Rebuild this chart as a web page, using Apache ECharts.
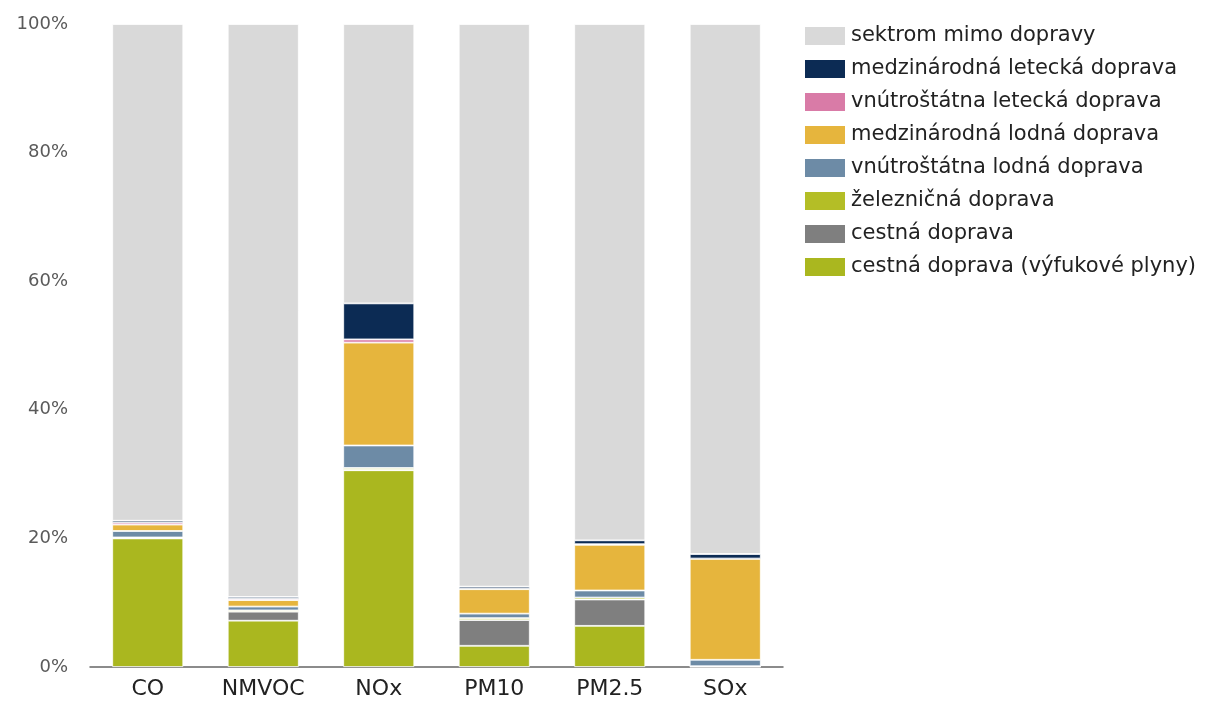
<!DOCTYPE html>
<html>
<head>
<meta charset="utf-8">
<script src="https://cdn.jsdelivr.net/npm/echarts@6/dist/echarts.min.js"></script>
<style>
  html, body { margin: 0; padding: 0; background: #fff; }
  #chart { width: 1209px; height: 702px; }
</style>
</head>
<body>
<div id="chart"></div>
<script>
// Pollutant categories
const categories = ['CO', 'NMVOC', 'NOx', 'PM10', 'PM2.5', 'SOx'];

// Share of total emissions per source (%), stacked bottom to top
const cestnaVyfukove   = [20.0, 7.2, 30.6, 3.3, 6.4, 0.05];
const cestna           = [0.05, 1.4, 0.05, 4.0, 4.1, 0.02];
const zeleznicna       = [0.1, 0.2, 0.3, 0.3, 0.3, 0.05];
const vnutroLodna      = [1.0, 0.6, 3.5, 0.7, 1.1, 1.0];
const medzLodna        = [1.0, 1.0, 16.0, 3.8, 7.1, 15.7];
const vnutroLetecka    = [0.3, 0.2, 0.5, 0.1, 0.1, 0.05];
const medzLetecka      = [0.3, 0.3, 5.6, 0.3, 0.6, 0.7];
const mimoDopravy      = [77.25, 89.1, 43.45, 87.5, 80.3, 82.43];

const yTicks = [0, 20, 40, 60, 80, 100];

const seriesDefs = [
  { name: 'cestná doprava (výfukové plyny)', data: cestnaVyfukove, color: '#aab71f' },
  { name: 'cestná doprava', data: cestna, color: '#7f7f7f' },
  { name: 'železničná doprava', data: zeleznicna, color: '#b4be26' },
  { name: 'vnútroštátna lodná doprava', data: vnutroLodna, color: '#6d8ba6' },
  { name: 'medzinárodná lodná doprava', data: medzLodna, color: '#e6b53d' },
  { name: 'vnútroštátna letecká doprava', data: vnutroLetecka, color: '#d97ba7' },
  { name: 'medzinárodná letecká doprava', data: medzLetecka, color: '#0c2b54' },
  { name: 'sektrom mimo dopravy', data: mimoDopravy, color: '#d9d9d9' }
];

const chart = echarts.init(document.getElementById('chart'), null, { renderer: 'canvas' });

chart.setOption({
  animation: false,
  backgroundColor: '#ffffff',
  grid: { left: 90, right: 426, top: 24, bottom: 35 },
  legend: {
    orient: 'vertical',
    left: 798,
    top: 20,
    itemWidth: 42,
    itemHeight: 20,
    itemGap: 11,
    data: seriesDefs.map(s => s.name).reverse(),
    textStyle: { fontFamily: 'DejaVu Sans', fontSize: 21, color: '#222', padding: [0, 0, 0, 0] },
    icon: 'rect'
  },
  xAxis: {
    type: 'category',
    data: categories,
    axisLine: { lineStyle: { color: '#666', width: 1.5 } },
    axisTick: { show: false },
    axisLabel: { fontFamily: 'DejaVu Sans', fontSize: 22, color: '#222', margin: 11 }
  },
  yAxis: {
    type: 'value',
    min: yTicks[0],
    max: yTicks[yTicks.length - 1],
    interval: 20,
    axisLine: { show: false },
    axisTick: { show: false },
    splitLine: { show: false },
    axisLabel: {
      fontFamily: 'DejaVu Sans', fontSize: 18, color: '#5a5a5a', margin: 22,
      formatter: v => v + '%'
    }
  },
  series: seriesDefs.map(s => ({
    name: s.name,
    type: 'bar',
    stack: 'total',
    barWidth: 71,
    data: s.data,
    itemStyle: { color: s.color, borderColor: '#ffffff', borderWidth: 0.8 }
  }))
});
</script>
</body>
</html>
